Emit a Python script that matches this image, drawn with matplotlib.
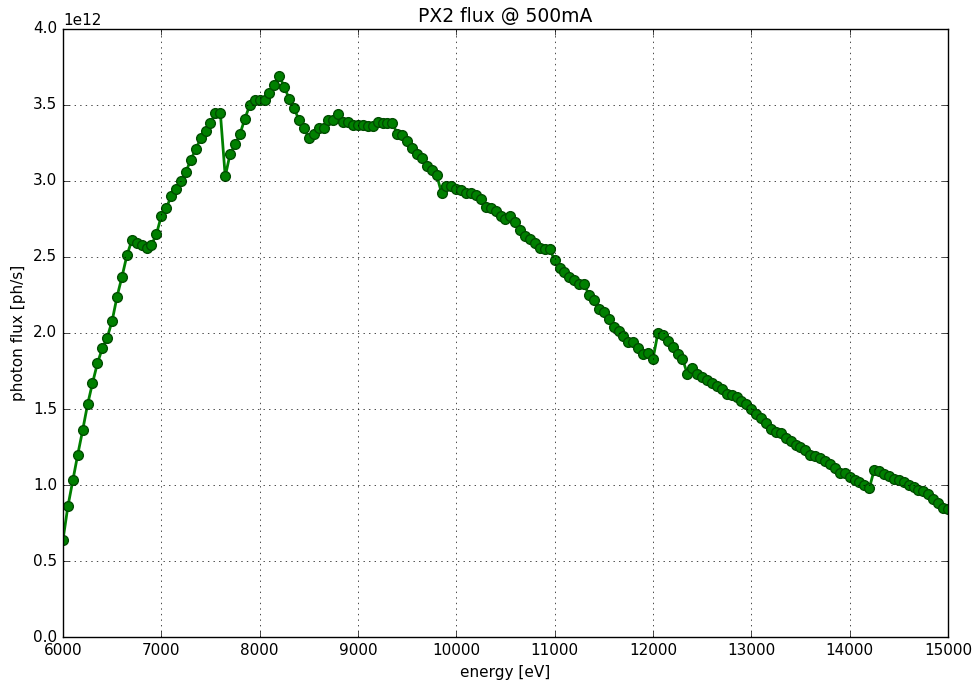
import matplotlib
matplotlib.use("Agg")
import matplotlib.pyplot as plt
import numpy as np

plt.style.use('classic')

# scan grid: 6000 .. 15000 eV in 50 eV steps
energy = np.arange(6000, 15001, 50)

# photon flux in units of 1e12 ph/s
flux = [
    0.64, 0.86, 1.03, 1.20, 1.36, 1.53, 1.67, 1.80, 1.90, 1.97,
    2.08, 2.24, 2.37, 2.51, 2.61, 2.59, 2.58, 2.56, 2.58, 2.65,
    2.77, 2.82, 2.90, 2.95, 3.00, 3.06, 3.14, 3.21, 3.28, 3.33,
    3.38, 3.45, 3.45, 3.03, 3.18, 3.24, 3.31, 3.41, 3.50, 3.53,
    3.53, 3.53, 3.58, 3.63, 3.69, 3.62, 3.54, 3.48, 3.40, 3.35,
    3.28, 3.31, 3.35, 3.35, 3.40, 3.40, 3.44, 3.39, 3.39, 3.37,
    3.37, 3.37, 3.36, 3.36, 3.39, 3.38, 3.38, 3.38, 3.31, 3.30,
    3.26, 3.22, 3.18, 3.15, 3.10, 3.07, 3.04, 2.92, 2.97, 2.97,
    2.95, 2.94, 2.92, 2.92, 2.91, 2.88, 2.83, 2.82, 2.80, 2.77,
    2.75, 2.77, 2.73, 2.68, 2.64, 2.62, 2.59, 2.56, 2.55, 2.55,
    2.48, 2.43, 2.40, 2.37, 2.35, 2.32, 2.32, 2.25, 2.22, 2.16,
    2.14, 2.09, 2.04, 2.01, 1.98, 1.94, 1.94, 1.90, 1.86, 1.87,
    1.83, 2.00, 1.99, 1.95, 1.91, 1.86, 1.83, 1.73, 1.77, 1.73,
    1.71, 1.69, 1.67, 1.65, 1.63, 1.60, 1.59, 1.58, 1.55, 1.53,
    1.50, 1.47, 1.44, 1.41, 1.37, 1.35, 1.34, 1.31, 1.29, 1.26,
    1.25, 1.23, 1.20, 1.19, 1.18, 1.16, 1.14, 1.11, 1.08, 1.08,
    1.05, 1.03, 1.02, 1.00, 0.98, 1.10, 1.09, 1.07, 1.06, 1.04,
    1.03, 1.02, 1.00, 0.99, 0.97, 0.96, 0.94, 0.91, 0.88, 0.85,
    0.84,
]
flux = np.array(flux) * 1e12

fig = plt.figure(figsize=(9.75, 6.8), dpi=100, facecolor='white')
ax = fig.add_axes([0.0646, 0.0632, 0.9077, 0.8942])

ax.plot(energy, flux, 'g-o', lw=2, ms=7, mec=(0, 0.3, 0), mew=1)

ax.set_xlim(6000, 15000)
ax.set_ylim(0, 4e12)
ax.grid(True)
ax.set_title('PX2 flux @ 500mA', fontsize=13.5)
ax.set_xlabel('energy [eV]', fontsize=11)
ax.set_ylabel('photon flux [ph/s]', fontsize=11)
ax.tick_params(labelsize=11)
ax.yaxis.get_offset_text().set_fontsize(11)

fig.savefig('out.png', dpi=100, facecolor='white')
